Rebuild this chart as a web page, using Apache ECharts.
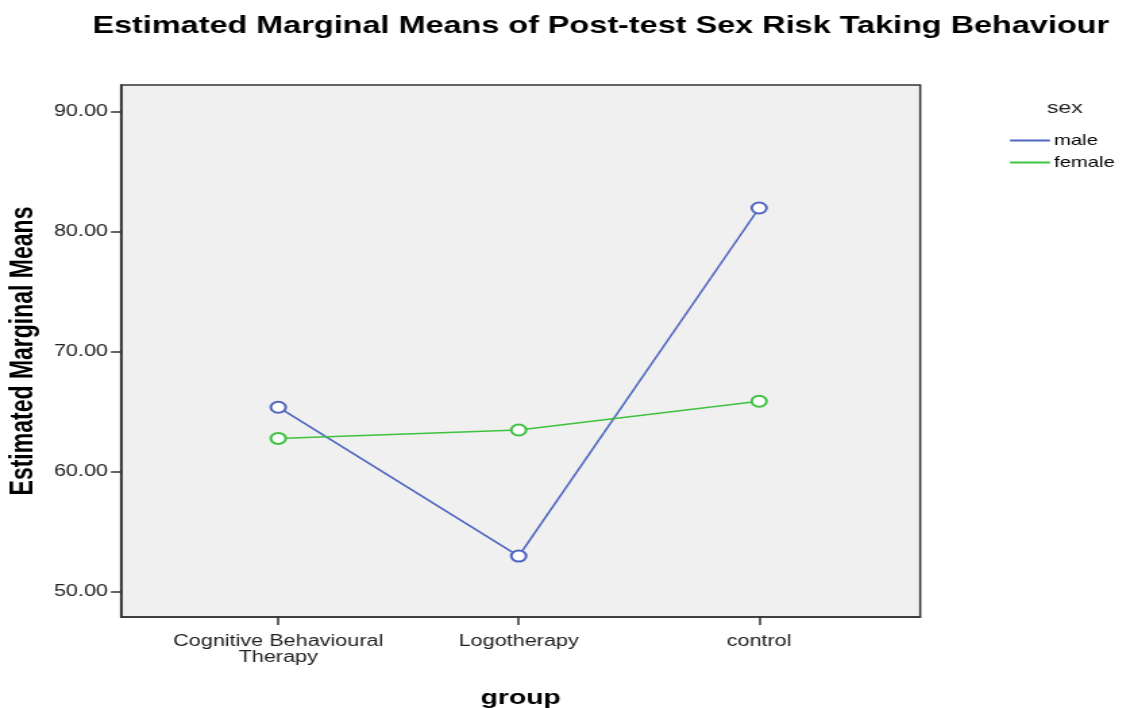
<!DOCTYPE html>
<html><head><meta charset="utf-8">
<script src="https://cdn.jsdelivr.net/npm/echarts@6/dist/echarts.min.js"></script>
<style>
html,body{margin:0;padding:0;background:#fff;overflow:hidden}
#wrap{width:1123px;height:708px;overflow:hidden}
#c{height:708px;transform-origin:0 0}
</style>
</head><body><div id="wrap"><div id="c"></div></div>
<script>
const groups = ['Cognitive Behavioural\nTherapy', 'Logotherapy', 'control'];
const groupPos = [1, 2, 3];
const maleValues = [65.4, 53.0, 82.0];
const femaleValues = [62.8, 63.5, 65.9];
const yTicks = [50, 60, 70, 80, 90];

// the reference picture is horizontally stretched; reproduce that stretch
const S = 1.35;
const W = 1123 / S;
const el = document.getElementById('c');
el.style.width = W + 'px';
el.style.transform = 'scaleX(' + S + ')';
const X = v => v / S;

const chart = echarts.init(el);
const F = '"Liberation Sans", Arial, sans-serif';
chart.setOption({
  animation: false,
  backgroundColor: '#fff',
  title: {
    text: 'Estimated Marginal Means of Post-test Sex Risk Taking Behaviour',
    left: X(594), top: 9, textAlign: 'center',
    textStyle: {fontFamily: F, fontSize: 24, fontWeight: 'bold', color: '#000'}
  },
  legend: {
    left: X(1010), top: 133, padding: 0, orient: 'vertical', icon: 'rect', itemWidth: X(40), itemHeight: 2, itemGap: 7,
    textStyle: {fontFamily: F, fontSize: 15, color: '#000', padding: [0, 0, 0, -2]},
    data: ['male', 'female']
  },
  graphic: [{type: 'text', left: X(1047), top: 100,
    style: {text: 'sex', fontFamily: F, fontSize: 17, fill: '#222'}}],
  grid: {left: X(121), right: X(1123 - 920), top: 85, bottom: 91, show: true, outerBoundsMode: 'none',
    backgroundColor: '#f0f0f0', borderColor: '#333', borderWidth: 1.5},
  xAxis: {
    type: 'value', min: 0.346, max: 3.67,
    name: 'group', nameLocation: 'middle', nameGap: 71,
    nameTextStyle: {fontFamily: F, fontSize: 21, fontWeight: 'bold', color: '#000'},
    axisLine: {show: true, lineStyle: {color: '#333', width: 1.5}},
    splitLine: {show: false},
    axisTick: {show: true, length: 8, customValues: groupPos, lineStyle: {color: '#333', width: 1.5}},
    axisLabel: {customValues: groupPos, margin: 17, fontFamily: F, fontSize: 16, color: '#222', lineHeight: 16,
      formatter: v => groups[groupPos.indexOf(Math.round(v))] || ''}
  },
  yAxis: {
    type: 'value', min: 47.92, max: 92.25,
    name: 'Estimated Marginal Means', nameLocation: 'middle', nameGap: 54, nameRotate: 90,
    nameTextStyle: {fontFamily: F, fontSize: 23, fontWeight: 'bold', color: '#000'},
    axisLine: {show: true, lineStyle: {color: '#333', width: 1.5}},
    splitLine: {show: false},
    axisTick: {show: true, length: X(10), customValues: yTicks, lineStyle: {color: '#333', width: 1.5}},
    axisLabel: {customValues: yTicks, margin: X(13), fontFamily: F, fontSize: 16, color: '#222',
      formatter: v => v.toFixed(2)}
  },
  series: [
    {name: 'male', type: 'line', data: groupPos.map((x, i) => [x, maleValues[i]]),
     color: '#5066c0', symbol: 'emptyCircle', symbolSize: 11, lineStyle: {width: 1.6}, itemStyle: {borderWidth: 1.2}},
    {name: 'female', type: 'line', data: groupPos.map((x, i) => [x, femaleValues[i]]),
     color: '#3fc23f', symbol: 'emptyCircle', symbolSize: 11, lineStyle: {width: 1.6}, itemStyle: {borderWidth: 1.2}}
  ]
});
</script></body></html>
